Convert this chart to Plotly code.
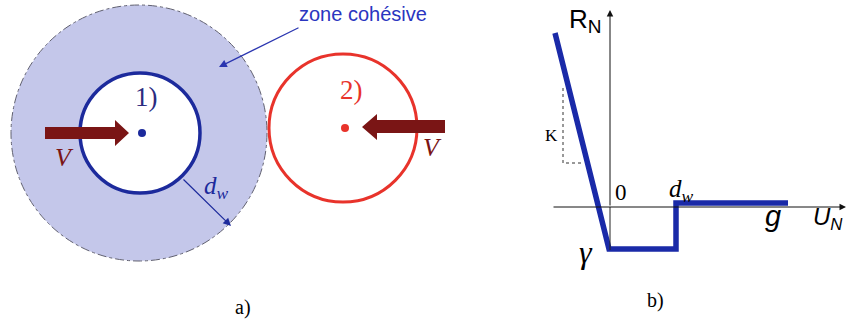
import plotly.graph_objects as go

W, H = 846, 322
# ---- panel a geometry (pixel space) ----
zone_center = [139, 133]
zone_radius = 128
particle1_center = [140, 133]
particle1_radius = 60
particle2_center = [343, 128]
particle2_radius = 74
# ---- panel b: R_N law ----
law_x = [555, 609, 609, 676, 676, 788]
law_y = [33, 249, 249, 249, 203, 203]
k_x = [563, 563, 583]
k_y = [88, 163, 163]
axis_origin = [610, 207]

BLUE = "#1c2a9c"
CURVE = "#1a2aa8"
RED = "#e8332b"
BROWN = "#7a1515"
SERIF = "Liberation Serif"
SANS = "Liberation Sans"

fig = go.Figure()
shapes = []
# cohesive zone
cx, cy = zone_center
shapes.append(dict(type="circle", xref="x", yref="y",
                   x0=cx - zone_radius, x1=cx + zone_radius, y0=cy - zone_radius, y1=cy + zone_radius,
                   fillcolor="#c4c7ea", line=dict(color="#606070", width=1, dash="dashdot"), layer="below"))
# particle 1
px, py = particle1_center
shapes.append(dict(type="circle", x0=px - particle1_radius, x1=px + particle1_radius,
                   y0=py - particle1_radius, y1=py + particle1_radius,
                   fillcolor="white", line=dict(color=BLUE, width=3.5)))
shapes.append(dict(type="circle", x0=px - 4 + 2, x1=px + 4 + 2, y0=py - 4, y1=py + 4,
                   fillcolor=BLUE, line=dict(color=BLUE, width=0)))
# particle 2
qx, qy = particle2_center
shapes.append(dict(type="circle", x0=qx - particle2_radius, x1=qx + particle2_radius,
                   y0=qy - particle2_radius, y1=qy + particle2_radius,
                   fillcolor="rgba(0,0,0,0)", line=dict(color=RED, width=3)))
shapes.append(dict(type="circle", x0=qx - 4 + 2, x1=qx + 4 + 2, y0=qy - 4, y1=qy + 4,
                   fillcolor=RED, line=dict(color=RED, width=0)))
# velocity arrows (filled polygons)
shapes.append(dict(type="path",
                   path="M 45 127 L 115 127 L 115 120 L 129 133 L 115 146 L 115 139 L 45 139 Z",
                   fillcolor=BROWN, line=dict(color=BROWN, width=0)))
shapes.append(dict(type="path",
                   path="M 445 120 L 377 120 L 377 114 L 362 127 L 377 140 L 377 133 L 445 133 Z",
                   fillcolor=BROWN, line=dict(color=BROWN, width=0)))
# K dotted triangle
shapes.append(dict(type="path",
                   path=f"M {k_x[0]} {k_y[0]} L {k_x[1]} {k_y[1]} L {k_x[2]} {k_y[2]}",
                   line=dict(color="#333333", width=1, dash="dot")))
# vertical axis line extends below
shapes.append(dict(type="line", x0=axis_origin[0], x1=axis_origin[0], y0=axis_origin[1], y1=250,
                   line=dict(color="#222222", width=1)))

fig.add_trace(go.Scatter(x=law_x, y=law_y, mode="lines",
                         line=dict(color=CURVE, width=5.5), hoverinfo="skip", showlegend=False))

ann = []
def arrow(x0, y0, x1, y1, color, width=1.2, head=2, size=1.2):
    ann.append(dict(x=x1, y=y1, ax=x0, ay=y0, xref="x", yref="y", axref="x", ayref="y",
                    showarrow=True, arrowhead=head, arrowsize=size, arrowwidth=width,
                    arrowcolor=color, text=""))

def text(x, y, t, size, color="black", family=SERIF):
    ann.append(dict(x=x, y=y, xref="x", yref="y", text=t, showarrow=False,
                    font=dict(size=size, color=color, family=family)))

# axes of panel b
arrow(axis_origin[0], 207, axis_origin[0], 10, "#111111", width=1, head=2, size=1.3)
arrow(552, axis_origin[1], 846, axis_origin[1], "#111111", width=1, head=2, size=1.3)
# zone cohesive pointer
arrow(300, 27, 219, 67, "#2a35b0", width=1.2, head=2, size=1.3)
# d_w arrow
arrow(182, 178, 231, 226, BLUE, width=1.2, head=2, size=1.3)

text(363, 14, "zone cohésive", 20, "#2a35c0", SANS)
text(146, 97, "1)", 27, "#2b2b80")
text(351, 90, "2)", 27, RED)
text(64, 157, "<i>V</i>", 26, BROWN)
text(432, 147, "<i>V</i>", 26, BROWN)
text(216, 187, "<i>d<sub>w</sub></i>", 25, BLUE)
text(585, 20, "R<sub><span style='font-size:19px'>N</span></sub>", 26, "black", SANS)
text(551, 135, "K", 17)
text(621, 192, "0", 23)
text(681, 190, "<i>d<sub>w</sub></i>", 25)
text(773, 216, "<i>g</i>", 29, "black", SANS)
text(828, 218, "<i>U<sub>N</sub></i>", 24, "black", SANS)
text(586, 252, "<i>γ</i>", 32)
text(243, 307, "a)", 20)
text(655, 300, "b)", 20)

fig.update_layout(width=W, height=H, margin=dict(l=0, r=0, t=0, b=0),
                  paper_bgcolor="white", plot_bgcolor="white",
                  shapes=shapes, annotations=ann, showlegend=False,
                  xaxis=dict(range=[0, W], visible=False, fixedrange=True),
                  yaxis=dict(range=[H, 0], visible=False, fixedrange=True))
fig.write_html("out.html", config={"displayModeBar": False},
               post_script="document.body.style.margin='0';document.body.style.overflow='hidden';")
